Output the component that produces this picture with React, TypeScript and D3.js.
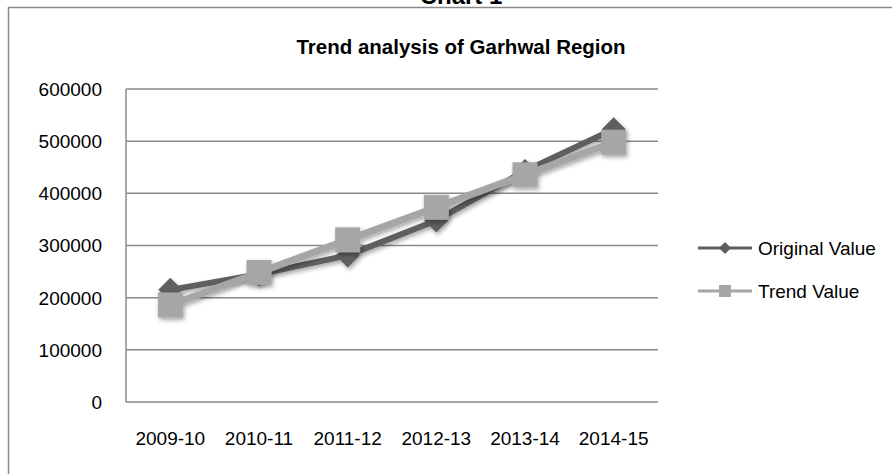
import React from "react";
import * as d3 from "d3";

const categories = ["2009-10", "2010-11", "2011-12", "2012-13", "2013-14", "2014-15"];
const originalValues = [215000, 245000, 281000, 348000, 443000, 523000];
const trendValues = [186000, 248400, 310800, 373200, 435600, 498000];
const yTicks = [0, 100000, 200000, 300000, 400000, 500000, 600000];
const seriesNames = ["Original Value", "Trend Value"];

const W = 892;
const H = 474;
const FONT = "'Liberation Sans', Arial, sans-serif";

export default function App() {
  const x = d3.scalePoint<string>().domain(categories).range([126, 658]).padding(0.5);
  const y = d3.scaleLinear().domain([0, 600000]).range([402, 89]);
  const line = d3
    .line<number>()
    .x((_, i) => x(categories[i]) as number)
    .y((d) => y(d));

  const dark = "#5e5e5e";
  const light = "#a6a6a6";

  const diamond = (cx: number, cy: number, r: number) =>
    `M${cx},${cy - r}L${cx + r},${cy}L${cx},${cy + r}L${cx - r},${cy}Z`;

  return (
    <svg
      width={W}
      height={H}
      style={{ position: "absolute", left: 0, top: 0, background: "#fff" }}
      fontFamily={FONT}
    >
      <defs>
        <filter id="sh" x="-30%" y="-30%" width="160%" height="160%">
          <feDropShadow dx="1.5" dy="2.5" stdDeviation="2" floodColor="#000" floodOpacity="0.35" />
        </filter>
      </defs>
      <rect x={0} y={0} width={W} height={H} fill="#fff" />
      <text x={461} y={4} textAnchor="middle" fontWeight="bold" fontSize={24} fill="#000">
        Chart 1
      </text>
      <path d={`M8.5,${H + 2}V7.5H${W + 2}`} fill="none" stroke="#8a8a8a" strokeWidth={1.5} />

      <text x={461} y={54} textAnchor="middle" fontWeight="bold" fontSize={20.5} fill="#000">
        Trend analysis of Garhwal Region
      </text>

      {yTicks.map((t) => (
        <g key={t}>
          <line x1={126} x2={658} y1={y(t)} y2={y(t)} stroke="#8a8a8a" strokeWidth={1.5} />
          <text x={102} y={y(t)} dy="0.36em" textAnchor="end" fontSize={19} fill="#000">
            {t}
          </text>
        </g>
      ))}
      <line x1={126} x2={126} y1={89} y2={402} stroke="#8a8a8a" strokeWidth={1.5} />

      {categories.map((c) => (
        <text key={c} x={x(c) as number} y={445} textAnchor="middle" fontSize={19} fill="#000">
          {c}
        </text>
      ))}

      <g filter="url(#sh)">
        <path d={line(originalValues) || ""} fill="none" stroke={dark} strokeWidth={6} strokeLinejoin="round" />
        {originalValues.map((v, i) => (
          <path key={i} d={diamond(x(categories[i]) as number, y(v), 12)} fill={dark} />
        ))}
      </g>
      <g filter="url(#sh)">
        <path d={line(trendValues) || ""} fill="none" stroke={light} strokeWidth={7} strokeLinejoin="round" />
        {trendValues.map((v, i) => (
          <rect
            key={i}
            x={(x(categories[i]) as number) - 12.5}
            y={y(v) - 12.5}
            width={25}
            height={25}
            fill={light}
          />
        ))}
      </g>

      <g>
        <line x1={698} x2={752} y1={248} y2={248} stroke={dark} strokeWidth={3} />
        <path d={diamond(725, 248, 6)} fill={dark} />
        <text x={758} y={248} dy="0.36em" fontSize={19} fill="#000">
          {seriesNames[0]}
        </text>
        <line x1={698} x2={752} y1={291} y2={291} stroke={light} strokeWidth={3} />
        <rect x={719} y={285} width={12} height={12} fill={light} />
        <text x={758} y={291} dy="0.36em" fontSize={19} fill="#000">
          {seriesNames[1]}
        </text>
      </g>
    </svg>
  );
}
